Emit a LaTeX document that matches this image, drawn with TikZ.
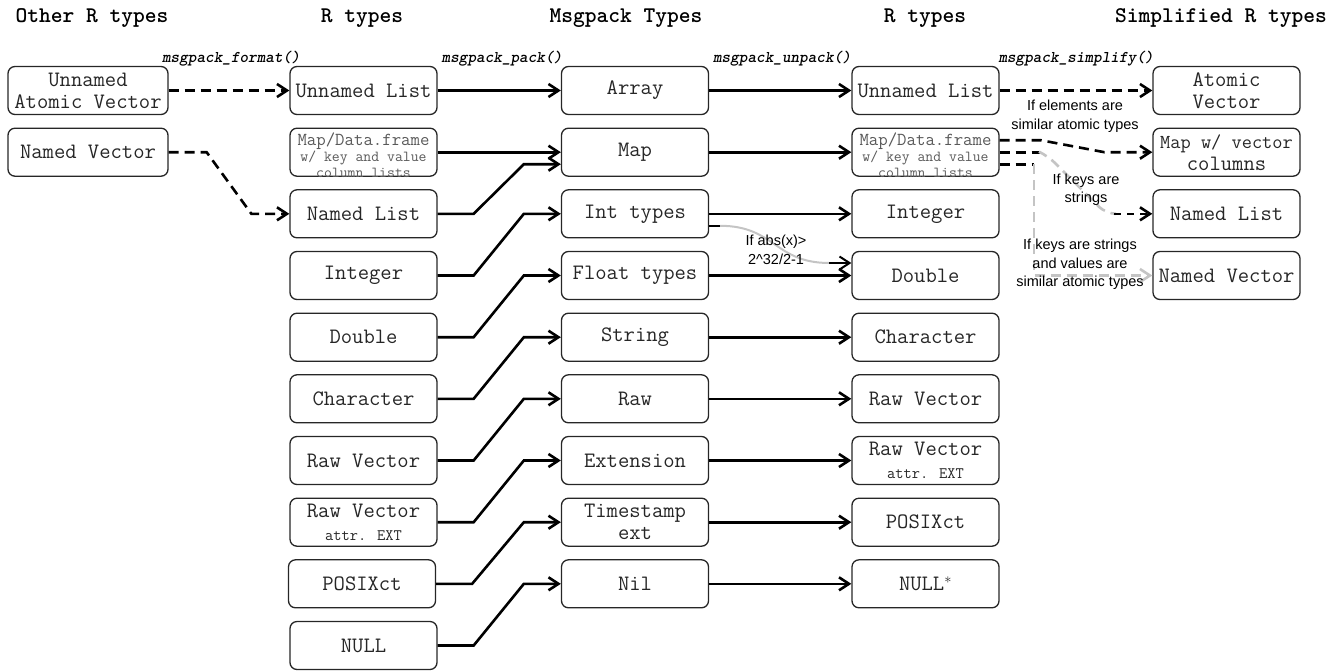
\documentclass[tikz,border=0pt]{standalone}
\usepackage{fontspec}
\setmainfont{Liberation Sans}
\usetikzlibrary{arrows.meta}

\tikzset{
  box/.style={draw=black!85, line width=1.3pt, rounded corners=7pt,
    minimum width=147pt, minimum height=48pt, inner sep=0pt, align=center,
    text=black!85, font=\ttfamily\fontsize{22}{22}\selectfont},
  widebox/.style={box, minimum width=160pt},
  smalltxt/.style={align=center, inner sep=0pt, text=black!65,
    font=\ttfamily\fontsize{15.3}{17}\selectfont},
  hdr/.style={font=\ttfamily\bfseries\fontsize{22.4}{24}\selectfont},
  fn/.style={font=\ttfamily\bfseries\itshape\fontsize{16.4}{18}\selectfont},
  note/.style={align=center, inner sep=0pt, font=\fontsize{14.5}{18.5}\selectfont},
  wire/.style={line width=2.6pt},
  conn/.style={wire, -{Straight Barb[length=10pt,width=13pt]}},
  dsh/.style={dash pattern=on 10pt off 6pt},
  lite/.style={draw={rgb,255:red,196;green,196;blue,196}},
}

\begin{document}
\begin{tikzpicture}[x=1pt,y=-1pt]
\useasboundingbox (0,0) rectangle (1341,670);

% column headers
\node[hdr] (h1) at (92,18)   {Other R types};
\node[hdr] (h2) at (362,18)  {R types};
\node[hdr] (h3) at (626,18)  {Msgpack Types};
\node[hdr] (h4) at (925,18)  {R types};
\node[hdr] (h5) at (1221,18) {Simplified R types};

% function names
\node[fn] (f1) at (231,59)  {msgpack\_format()};
\node[fn] (f2) at (502,59)  {msgpack\_pack()};
\node[fn] (f3) at (782,59)  {msgpack\_unpack()};
\node[fn] (f4) at (1076,59) {msgpack\_simplify()};

% other R types
\node[widebox] (c1r1) at (88,90.5)  {Unnamed\\Atomic Vector};
\node[widebox] (c1r2) at (88,152.2) {Named Vector};

% R types
\node[box] (c2r1)  at (363.5,90.5)  {Unnamed List};
\node[box] (c2r2)  at (363.5,152.2) {};
\node[smalltxt] (c2r2t) at (363.5,155)
  {{\fontsize{18.3}{18}\selectfont Map/Data.frame}\\[-1pt] w/ key and value\\[-1pt] column lists};
\node[box] (c2r3)  at (363.5,213.8) {Named List};
\node[box] (c2r4)  at (363.5,275.5) {Integer};
\node[box] (c2r5)  at (363.5,337.2) {Double};
\node[box] (c2r6)  at (363.5,398.8) {Character};
\node[box] (c2r7)  at (363.5,460.5) {Raw Vector};
\node[box] (c2r8)  at (363.5,522.2) {Raw Vector\\[1pt]{\fontsize{16}{16}\selectfont attr. EXT}};
\node[box] (c2r9)  at (362,583.8)   {POSIXct};
\node[box] (c2r10) at (363.5,645.5) {NULL};

% msgpack types
\node[box] (c3r1) at (635,90.5)  {Array};
\node[box] (c3r2) at (635,152.2) {Map};
\node[box] (c3r3) at (635,213.8) {Int types};
\node[box] (c3r4) at (635,275.5) {Float types};
\node[box] (c3r5) at (635,337.2) {String};
\node[box] (c3r6) at (635,398.8) {Raw};
\node[box] (c3r7) at (635,460.5) {Extension};
\node[box] (c3r8) at (635,522.2) {Timestamp\\ext};
\node[box] (c3r9) at (635,583.8) {Nil};

% R types after unpacking
\node[box] (c4r1) at (925.5,90.5)  {Unnamed List};
\node[box] (c4r2) at (925.5,152.2) {};
\node[smalltxt] (c4r2t) at (925.5,155)
  {{\fontsize{18.3}{18}\selectfont Map/Data.frame}\\[-1pt] w/ key and value\\[-1pt] column lists};
\node[box] (c4r3) at (925.5,213.8) {Integer};
\node[box] (c4r4) at (925.5,275.5) {Double};
\node[box] (c4r5) at (925.5,337.2) {Character};
\node[box] (c4r6) at (925.5,398.8) {Raw Vector};
\node[box] (c4r7) at (925.5,460.5) {Raw Vector\\[1pt]{\fontsize{16}{16}\selectfont attr. EXT}};
\node[box] (c4r8) at (925.5,522.2) {POSIXct};
\node[box] (c4r9) at (925.5,583.8) {NULL$^{*}$};

% simplified R types
\node[box] (c5r1) at (1226.5,90.5)  {Atomic\\Vector};
\node[box] (c5r2) at (1226.5,152.2) {\fontsize{19.8}{19}\selectfont Map w/ vector\\columns};
\node[box] (c5r3) at (1226.5,213.8) {Named List};
\node[box] (c5r4) at (1226.5,275.5) {Named Vector};

% msgpack_format()
\draw[conn,dsh] (c1r1.east) -- (c2r1.west);
\draw[conn,dsh] (c1r2.east) -- ++(38,0) -- ([xshift=-38pt]c2r3.west) -- (c2r3.west);

% msgpack_pack()
\draw[conn] (c2r1.east) -- (c3r1.west);
\draw[conn] (c2r2.east) -- (c3r2.west);
\draw[conn] (c2r3.east) -- ++(36,0) -- ([xshift=-37pt,yshift=-12pt]c3r2.west) -- ([yshift=-12pt]c3r2.west);
\foreach \k/\j in {4/3,5/4,6/5,7/6,8/7,9/8,10/9}
  \draw[conn] (c2r\k.east) -- ++(36,0) -- ([xshift=-37pt]c3r\j.west) -- (c3r\j.west);

% msgpack_unpack()
\foreach \k in {1,...,9}
  \draw[conn] (c3r\k.east) -- (c4r\k.west);
\coordinate (a1) at ([yshift=-12pt]c3r3.east);
\coordinate (a2) at ([xshift=11pt]a1);
\coordinate (b2) at ([yshift=12.5pt]c4r4.west);
\coordinate (b1) at ([xshift=-22pt]b2);
\draw[wire,line width=2pt] (a1) -- (a2);
\draw[lite,line width=2pt] (a2) .. controls ([xshift=55pt]a2) and ([xshift=-55pt]b1) .. (b1);
\draw[conn,line width=2pt] (b1) -- (b2);
\node[note] (n0) at (776,250) {If abs(x)>\\2\textasciicircum 32/2-1};

% msgpack_simplify()
\draw[conn,dsh] (c4r1.east) -- (c5r1.west);
\node[note] (n1) at (1075,116) {If elements are\\similar atomic types};

\coordinate (m1) at ([yshift=12pt]c4r2.east);
\draw[conn,dsh] (m1) -- ++(41,0) -- ([xshift=-48pt]c5r2.west) -- (c5r2.west);

\coordinate (k1) at (c4r2.east);
\coordinate (k2) at (1040,152.2);
\coordinate (k3) at (1114,213.8);
\draw[wire,dsh] (k1) -- (k2);
\draw[wire,lite,dsh,rounded corners=10pt] (k2) -- (1048,156) -- (1106,213.8) -- (k3);
\draw[conn,dash pattern=on 7pt off 6pt] (k3) -- (c5r3.west);
\node[note] (n2) at (1086,189.5) {If keys are\\strings};

\coordinate (v1) at ([yshift=-12pt]c4r2.east);
\coordinate (v2) at (1034,164.2);
\draw[wire,dsh] (v1) -- (v2);
\draw[conn,lite,dsh] (v2) -- (1034,275.5) -- (c5r4.west);
\node[note] (n3) at (1080,264.5) {If keys are strings\\and values are\\similar atomic types};
\end{tikzpicture}
\end{document}
